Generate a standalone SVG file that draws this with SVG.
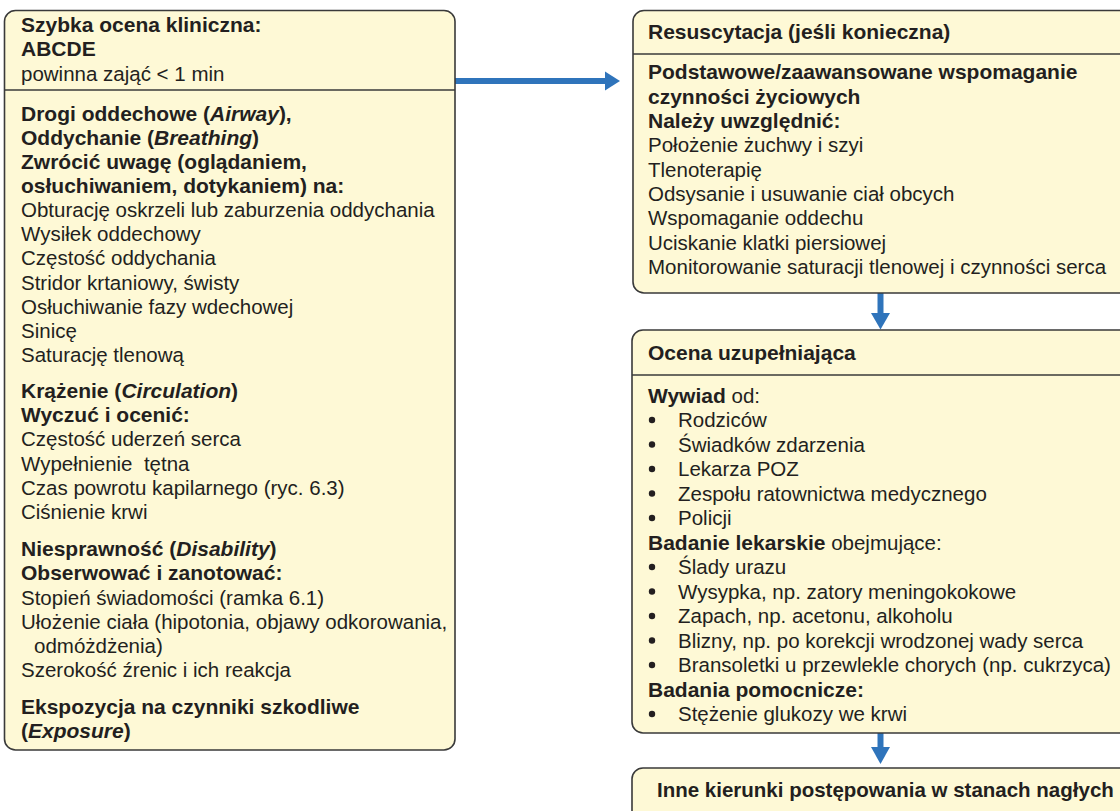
<svg xmlns="http://www.w3.org/2000/svg" width="1120" height="811" viewBox="0 0 1120 811">
<style>
text{font-family:"Liberation Sans",Arial,Helvetica,sans-serif;fill:#231f20;font-size:20.5px}
.b{font-weight:bold;font-size:21px}
.i{font-style:italic}
.box{fill:#fef9d6;stroke:#3a3a3a;stroke-width:1.6}
.div{stroke:#3a3a3a;stroke-width:1.6}
.arr{stroke:#2f74bb;stroke-width:6;fill:none}
.head{fill:#2f74bb}
.bul{fill:#231f20}
</style>
<rect width="1120" height="811" fill="#ffffff"/>
<g id="connectors">
  <line class="arr" x1="455" y1="81" x2="607" y2="81"/>
  <polygon class="head" points="605,71.5 620,81 605,90.5"/>
  <line class="arr" x1="880.5" y1="293" x2="880.5" y2="315"/>
  <polygon class="head" points="871,313 890,313 880.5,329.5"/>
  <line class="arr" x1="880.5" y1="733" x2="880.5" y2="749"/>
  <polygon class="head" points="871,747 890,747 880.5,764"/>
</g>
<g id="abcde">
  <rect class="box" x="4.5" y="10.5" width="450.5" height="739.5" rx="11"/>
  <line class="div" x1="4.5" y1="90" x2="455" y2="90"/>
  <text class="b" x="21" y="32">Szybka ocena kliniczna:</text>
  <text class="b" x="21" y="56">ABCDE</text>
  <text x="21" y="81">powinna zająć &lt; 1 min</text>
  <text class="b" x="21" y="121">Drogi oddechowe (<tspan class="i">Airway</tspan>),</text>
  <text class="b" x="21" y="145">Oddychanie (<tspan class="i">Breathing</tspan>)</text>
  <text class="b" x="21" y="169">Zwrócić uwagę (oglądaniem,</text>
  <text class="b" x="21" y="193">osłuchiwaniem, dotykaniem) na:</text>
  <text x="21" y="217">Obturację oskrzeli lub zaburzenia oddychania</text>
  <text x="21" y="241">Wysiłek oddechowy</text>
  <text x="21" y="265">Częstość oddychania</text>
  <text x="21" y="290">Stridor krtaniowy, świsty</text>
  <text x="21" y="314">Osłuchiwanie fazy wdechowej</text>
  <text x="21" y="338">Sinicę</text>
  <text x="21" y="362">Saturację tlenową</text>
  <text class="b" x="21" y="398">Krążenie (<tspan class="i">Circulation</tspan>)</text>
  <text class="b" x="21" y="422">Wyczuć i ocenić:</text>
  <text x="21" y="446">Częstość uderzeń serca</text>
  <text x="21" y="471">Wypełnienie&#160; tętna</text>
  <text x="21" y="495">Czas powrotu kapilarnego (ryc. 6.3)</text>
  <text x="21" y="519">Ciśnienie krwi</text>
  <text class="b" x="21" y="556">Niesprawność (<tspan class="i">Disability</tspan>)</text>
  <text class="b" x="21" y="580">Obserwować i zanotować:</text>
  <text x="21" y="605">Stopień świadomości (ramka 6.1)</text>
  <text x="21" y="629">Ułożenie ciała (hipotonia, objawy odkorowania,</text>
  <text x="34" y="653">odmóżdżenia)</text>
  <text x="21" y="677">Szerokość źrenic i ich reakcja</text>
  <text class="b" x="21" y="714">Ekspozycja na czynniki szkodliwe</text>
  <text class="b" x="21" y="738">(<tspan class="i">Exposure</tspan>)</text>
</g>
<g id="resuscytacja">
  <rect class="box" x="633" y="10.5" width="500" height="282.5" rx="11"/>
  <line class="div" x1="633" y1="54" x2="1133" y2="54"/>
  <text class="b" x="648" y="39">Resuscytacja (jeśli konieczna)</text>
  <text class="b" x="648" y="79">Podstawowe/zaawansowane wspomaganie</text>
  <text class="b" x="648" y="103.5">czynności życiowych</text>
  <text class="b" x="648" y="128">Należy uwzględnić:</text>
  <text x="648" y="152">Położenie żuchwy i szyi</text>
  <text x="648" y="176.5">Tlenoterapię</text>
  <text x="648" y="201">Odsysanie i usuwanie ciał obcych</text>
  <text x="648" y="225">Wspomaganie oddechu</text>
  <text x="648" y="250">Uciskanie klatki piersiowej</text>
  <text x="648" y="274">Monitorowanie saturacji tlenowej i czynności serca</text>
</g>
<g id="ocena">
  <rect class="box" x="632" y="330" width="501" height="403" rx="11"/>
  <line class="div" x1="632" y1="375" x2="1133" y2="375"/>
  <text class="b" x="648" y="360">Ocena uzupełniająca</text>
  <text x="648" y="402.5"><tspan class="b">Wywiad</tspan> od:</text>
  <circle class="bul" cx="652" cy="420" r="3.2"/>
  <text x="678" y="427">Rodziców</text>
  <circle class="bul" cx="652" cy="444.5" r="3.2"/>
  <text x="678" y="451.5">Świadków zdarzenia</text>
  <circle class="bul" cx="652" cy="469" r="3.2"/>
  <text x="678" y="476">Lekarza POZ</text>
  <circle class="bul" cx="652" cy="493.5" r="3.2"/>
  <text x="678" y="500.5">Zespołu ratownictwa medycznego</text>
  <circle class="bul" cx="652" cy="518" r="3.2"/>
  <text x="678" y="525">Policji</text>
  <text x="648" y="549.5"><tspan class="b">Badanie lekarskie</tspan> obejmujące:</text>
  <circle class="bul" cx="652" cy="567" r="3.2"/>
  <text x="678" y="574">Ślady urazu</text>
  <circle class="bul" cx="652" cy="591.5" r="3.2"/>
  <text x="678" y="598.5">Wysypka, np. zatory meningokokowe</text>
  <circle class="bul" cx="652" cy="616" r="3.2"/>
  <text x="678" y="623">Zapach, np. acetonu, alkoholu</text>
  <circle class="bul" cx="652" cy="640.5" r="3.2"/>
  <text x="678" y="647.5">Blizny, np. po korekcji wrodzonej wady serca</text>
  <circle class="bul" cx="652" cy="665" r="3.2"/>
  <text x="678" y="672">Bransoletki u przewlekle chorych (np. cukrzyca)</text>
  <text class="b" x="648" y="696.5">Badania pomocnicze:</text>
  <circle class="bul" cx="652" cy="714" r="3.2"/>
  <text x="678" y="721">Stężenie glukozy we krwi</text>
</g>
<g id="inne">
  <rect class="box" x="632" y="768" width="501" height="60" rx="11"/>
  <text class="b" x="657" y="797" style="font-size:20.5px">Inne kierunki postępowania w stanach nagłych</text>
</g>
</svg>
